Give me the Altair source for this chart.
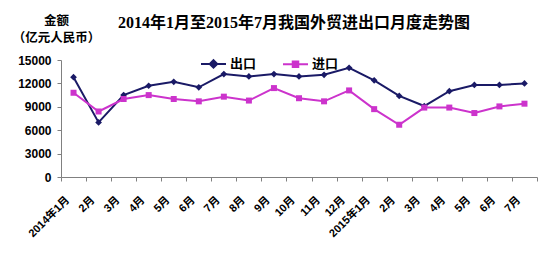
import altair as alt
import pandas as pd

months = ["2014年1月", "2月", "3月", "4月", "5月", "6月", "7月", "8月", "9月", "10月",
          "11月", "12月", "2015年1月", "2月", "3月", "4月", "5月", "6月", "7月"]
exports = [12800, 7000, 10500, 11700, 12200, 11500, 13200, 12900, 13200, 12900,
           13100, 14000, 12400, 10400, 9100, 11000, 11800, 11800, 12000]
imports = [10800, 8400, 10000, 10500, 10000, 9700, 10300, 9800, 11400, 10100,
           9700, 11100, 8700, 6700, 8900, 8900, 8200, 9050, 9400]
series = ["出口", "进口"]
colors = ["#1a1a66", "#cc33cc"]
shapes = ["diamond", "square"]
sizes = [45, 36]
y_ticks = [0, 3000, 6000, 9000, 12000, 15000]

rows = []
for i, m in enumerate(months):
    rows.append({"idx": i, "month": m, "series": series[0], "value": exports[i]})
    rows.append({"idx": i, "month": m, "series": series[1], "value": imports[i]})
df = pd.DataFrame(rows)

FONT = "Liberation Sans, Noto Sans CJK SC"
label_expr = "[" + ",".join("'" + m + "'" for m in months) + "][datum.value]"

x_enc = alt.X(
    "idx:O",
    bandPosition=0.5,
    scale=alt.Scale(type="band", paddingInner=0, paddingOuter=0),
    axis=alt.Axis(
        title=None, labelExpr=label_expr, tickBand="extent", labelAngle=-45,
        labelAlign="right", labelBaseline="middle", labelOffset=-6, labelPadding=17,
        tickSize=4, labelFont=FONT, labelFontSize=11, labelFontWeight="bold",
        labelColor="black", domainColor="#808080", tickColor="#808080", grid=False,
    ),
)
y_enc = alt.Y(
    "value:Q",
    scale=alt.Scale(domain=[0, 15000]),
    axis=alt.Axis(
        values=y_ticks, format="d", grid=False, tickSize=4, labelPadding=6, labelFont=FONT,
        labelFontSize=12, labelFontWeight="bold", labelColor="black",
        domainColor="#808080", tickColor="#808080",
        title=["金额", "（亿元人民币）"], titleAngle=0, titleX=-5, titleY=-46,
        titleAlign="center", titleBaseline="top", titleFont=FONT, titleFontSize=12.5,
        titleFontWeight="bold", titleLineHeight=17, titleColor="black",
    ),
)

base = alt.Chart(df)
layers = []
for s, c, sh, sz in zip(series, colors, shapes, sizes):
    sub = base.transform_filter(alt.datum.series == s)
    layers.append(sub.mark_line(strokeWidth=2, color=c).encode(x=x_enc, y=y_enc))
    layers.append(sub.mark_point(shape=sh, filled=True, size=sz, opacity=1, color=c)
                  .encode(x=x_enc, y=y_enc))

leg_paths = ["M-1,0L1,0M0,-0.3L0.3,0L0,0.3L-0.3,0Z",
             "M-1,0L1,0M-0.22,-0.22L0.22,-0.22L0.22,0.22L-0.22,0.22Z"]
leg = alt.Legend(orient="none", legendX=139, legendY=-10, direction="horizontal",
                 title=None, labelFont=FONT, labelFontSize=13, labelFontWeight="bold",
                 labelColor="black", symbolSize=625, columnPadding=22, labelOffset=3,
                 symbolStrokeWidth=2)
legend_layer = base.transform_filter("false").mark_point(
    filled=True, size=625, opacity=1, strokeWidth=2).encode(
    x=x_enc, y=y_enc,
    fill=alt.Fill("series:N", scale=alt.Scale(domain=series, range=colors), legend=leg),
    stroke=alt.Stroke("series:N", scale=alt.Scale(domain=series, range=colors), legend=leg),
    shape=alt.Shape("series:N", scale=alt.Scale(domain=series, range=leg_paths), legend=leg),
)
layers.append(legend_layer)

chart = alt.layer(*layers).properties(
    width=476, height=117,
    autosize=alt.AutoSizeParams(type="none"),
    padding={"left": 61, "top": 60, "right": 13, "bottom": 76},
    background="white",
    title=alt.TitleParams(
        "2014年1月至2015年7月我国外贸进出口月度走势图",
        font="Liberation Serif, Noto Sans CJK SC", fontSize=16, fontWeight="bold",
        color="black", anchor="middle", frame="group", baseline="bottom", offset=0,
        dx=-5, dy=33,
    ),
).configure_view(stroke=None)

chart.save("out.html", embed_options={"renderer": "svg", "actions": False})
